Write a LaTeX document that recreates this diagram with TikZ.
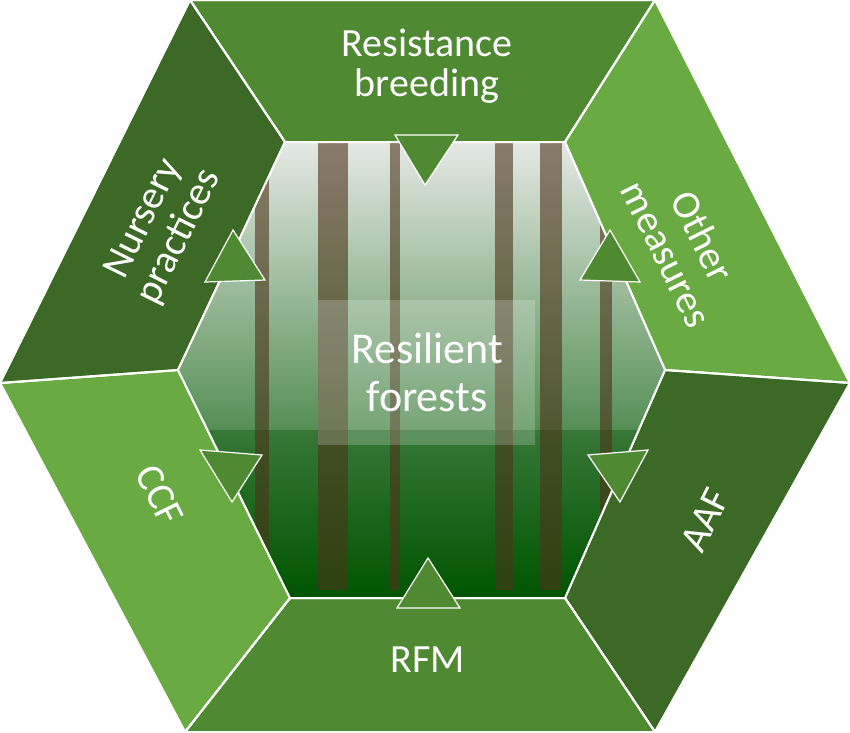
\documentclass[tikz,border=0pt]{standalone}
\usepackage{fontspec}
\setmainfont{Carlito}
\begin{document}
\begin{tikzpicture}[x=1pt,y=-1pt,
  seg/.style={draw=white,line width=2pt,line join=round},
  arr/.style={fill=mid,draw=white,line width=1.2pt},
  lab/.style={text=white,font=\fontsize{40}{40}\selectfont,align=center,inner sep=0pt}]
\definecolor{dark}{HTML}{3C6A26}
\definecolor{mid}{HTML}{4F8A33}
\definecolor{light}{HTML}{6AAA42}
\useasboundingbox (0,0) rectangle (850,732);
\coordinate (A) at (190,0); \coordinate (B) at (655,0); \coordinate (C) at (850,383);
\coordinate (D) at (655,732); \coordinate (E) at (185,732); \coordinate (F) at (0,383);
\coordinate (a) at (285,142); \coordinate (b) at (565,142); \coordinate (c) at (665,370);
\coordinate (d) at (565,598); \coordinate (e) at (290,598); \coordinate (f) at (178,370);
\fill[seg,fill=mid] (A)--(B)--(b)--(a)--cycle;
\fill[seg,fill=light] (B)--(C)--(c)--(b)--cycle;
\fill[seg,fill=dark] (C)--(D)--(d)--(c)--cycle;
\fill[seg,fill=mid] (D)--(E)--(e)--(d)--cycle;
\fill[seg,fill=light] (E)--(F)--(f)--(e)--cycle;
\fill[seg,fill=dark] (F)--(A)--(a)--(f)--cycle;
\draw[seg] (A)--(B)--(C)--(D)--(E)--(F)--cycle;
\draw[seg] (A)--(a) (B)--(b) (C)--(c) (D)--(d) (E)--(e) (F)--(f);
% forest
\begin{scope}
\clip (a)--(b)--(c)--(d)--(e)--(f)--cycle;
\shade[top color=green!15!black!10!white, middle color=green!40!black!60!white, bottom color=green!35!black] (170,140) rectangle (670,600);
\fill[green!30!black,opacity=0.35] (170,430) rectangle (670,600);
\foreach \x/\w in {318/30,255/14,495/18,540/22,390/10,600/12} \fill[brown!40!black,opacity=0.6] (\x,140) rectangle (\x+\w,590);
\end{scope}
\draw[white,line width=2pt] (a)--(b)--(c)--(d)--(e)--(f)--cycle;
\fill[white,opacity=0.2] (318,300) rectangle (535,445);
\node[lab,font=\fontsize{44}{48}\selectfont] (center) at (427,372) {Resilient\\forests};
% arrows
\draw[arr] (395,135)--(458,135)--(425,185)--cycle;
\draw[arr] (397,608)--(460,608)--(428,558)--cycle;
\draw[arr] (233,230)--(265,280)--(205,282)--cycle;
\draw[arr] (610,230)--(580,280)--(640,282)--cycle;
\draw[arr] (200,450)--(262,455)--(232,502)--cycle;
\draw[arr] (648,450)--(588,455)--(620,502)--cycle;
% labels
\node[lab] (rb) at (427,66) {Resistance\\breeding};
\node[lab,rotate=63.6] (np) at (162,228) {Nursery\\practices};
\node[lab,rotate=-63.6] (om) at (685,245) {Other\\measures};
\node[lab,rotate=-63.6] (ccf) at (160,495) {CCF};
\node[lab,rotate=63.6] (aaf) at (705,520) {AAF};
\node[lab] (rfm) at (428,660) {RFM};
\end{tikzpicture}
\end{document}
